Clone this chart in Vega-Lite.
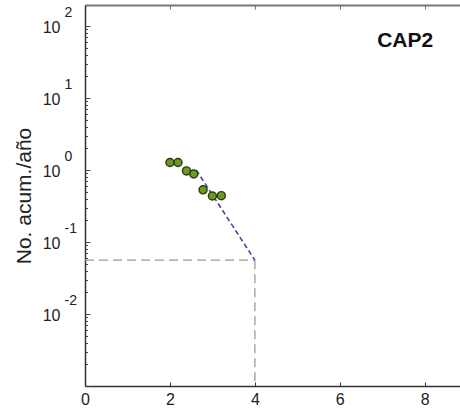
{
  "$schema": "https://vega.github.io/schema/vega-lite/v6.json",
  "width": 375,
  "height": 381,
  "autosize": "none",
  "padding": {"left": 85, "top": 5, "right": 0, "bottom": 29},
  "background": "white",
  "config": {"view": {"stroke": null}, "font": "Liberation Sans"},
  "datasets": {
    "pts": [
      {"m": 2.0, "n": 1.27},
      {"m": 2.19, "n": 1.27},
      {"m": 2.39, "n": 0.97},
      {"m": 2.56, "n": 0.88},
      {"m": 2.78, "n": 0.53},
      {"m": 3.0, "n": 0.435},
      {"m": 3.21, "n": 0.44}
    ],
    "fit": [
      {"m": 2.62, "n": 1.0},
      {"m": 4.0, "n": 0.056}
    ],
    "guide": [
      {"seg": "h", "m": 0, "n": 0.056},
      {"seg": "h", "m": 4.0, "n": 0.056},
      {"seg": "v", "m": 4.0, "n": 0.056},
      {"seg": "v", "m": 4.0, "n": 0.001}
    ],
    "lab": [
      {"m": 7.54, "n": 61.9, "label": "CAP2"}
    ]
  },
  "resolve": {"axis": {"x": "independent", "y": "independent"}},
  "layer": [
    {
      "data": {"name": "guide"},
      "mark": {"type": "line", "color": "#9a9a9a", "strokeDash": [9, 5], "strokeWidth": 1.3},
      "encoding": {
        "x": {"field": "m", "type": "quantitative", "scale": {"domain": [0, 8.83], "nice": false, "zero": false}, "axis": null},
        "y": {"field": "n", "type": "quantitative", "scale": {"type": "log", "domain": [0.001, 195.7], "nice": false}, "axis": null},
        "detail": {"field": "seg"}
      }
    },
    {
      "data": {"name": "fit"},
      "mark": {"type": "line", "color": "#3f4aa0", "strokeDash": [5, 3], "strokeWidth": 1.6},
      "encoding": {
        "x": {"field": "m", "type": "quantitative", "scale": {"domain": [0, 8.83], "nice": false, "zero": false},
          "axis": {"orient": "top", "values": [2, 4, 6, 8], "labels": false, "tickSize": -4, "tickColor": "#777", "domainColor": "#777", "domainWidth": 2, "title": null, "grid": false}},
        "y": {"field": "n", "type": "quantitative", "scale": {"type": "log", "domain": [0.001, 195.7], "nice": false},
          "axis": {"orient": "left", "values": [0.01, 0.1, 1, 10, 100], "ticks": false, "domain": false, "grid": false, "title": null,
            "labelExpr": "'' + round(log(datum.value) / LN10)",
            "labelFontSize": 14, "labelColor": "#222", "labelAlign": "left", "labelBaseline": "middle", "labelOffset": -13, "labelPadding": 21}}
      }
    },
    {
      "data": {"name": "pts"},
      "mark": {"type": "point", "shape": "circle", "filled": true, "fill": "#6a9c22", "stroke": "#2c3a10", "strokeWidth": 1.4, "size": 65, "opacity": 1},
      "encoding": {
        "x": {"field": "m", "type": "quantitative", "scale": {"domain": [0, 8.83], "nice": false, "zero": false},
          "axis": {"orient": "bottom", "values": [0, 2, 4, 6, 8], "tickSize": -4, "tickColor": "#333", "domainColor": "#333", "domainWidth": 1.5, "labelFontSize": 16, "labelColor": "#222", "labelPadding": 9, "title": null, "grid": false, "labelFlush": false}},
        "y": {"field": "n", "type": "quantitative", "scale": {"type": "log", "domain": [0.001, 195.7], "nice": false},
          "axis": {"orient": "left",
            "values": [0.001, 0.002, 0.003, 0.004, 0.005, 0.006, 0.007, 0.008, 0.009, 0.01, 0.02, 0.03, 0.04, 0.05, 0.06, 0.07, 0.08, 0.09, 0.1, 0.2, 0.3, 0.4, 0.5, 0.6, 0.7, 0.8, 0.9, 1, 2, 3, 4, 5, 6, 7, 8, 9, 10, 20, 30, 40, 50, 60, 70, 80, 90, 100],
            "labelExpr": "indexof([0.01, 0.1, 1, 10, 100], datum.value) >= 0 ? '10' : ''",
            "tickSize": {"condition": {"test": "indexof([0.001, 0.01, 0.1, 1, 10, 100], datum.value) >= 0", "value": -5}, "value": -2.5},
            "tickColor": "#444", "domainColor": "#333", "domainWidth": 1.5, "grid": false,
            "labelFontSize": 16, "labelColor": "#222", "labelAlign": "right", "labelBaseline": "middle", "labelOffset": 1.5, "labelPadding": 30, "labelOverlap": false, "labelBound": false, "labelFlush": false,
            "title": "No. acum./año", "titleFontSize": 21, "titleFontWeight": "normal", "titleColor": "#222", "titlePadding": 8}}
      }
    },
    {
      "data": {"name": "lab"},
      "mark": {"type": "text", "fontSize": 21, "fontWeight": "bold", "color": "#111", "align": "center", "baseline": "middle"},
      "encoding": {
        "x": {"field": "m", "type": "quantitative", "scale": {"domain": [0, 8.83], "nice": false, "zero": false}, "axis": null},
        "y": {"field": "n", "type": "quantitative", "scale": {"type": "log", "domain": [0.001, 195.7], "nice": false}, "axis": null},
        "text": {"field": "label"}
      }
    }
  ]
}
